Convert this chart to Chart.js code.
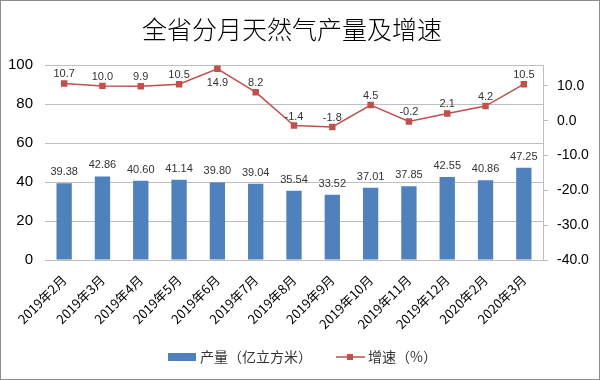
<!DOCTYPE html>
<html>
<head>
<meta charset="utf-8">
<script src="https://cdn.jsdelivr.net/npm/chart.js@4/dist/chart.umd.min.js"></script>
<style>
  html, body { margin: 0; padding: 0; background: #fff; }
  #wrap { position: relative; width: 598px; height: 378px; border: 1px solid #8c8c8c; }
</style>
</head>
<body>
<div id="wrap"><canvas id="chart" width="598" height="378"></canvas></div>
<script>
const months = ['2019年2月', '2019年3月', '2019年4月', '2019年5月', '2019年6月', '2019年7月', '2019年8月',
  '2019年9月', '2019年10月', '2019年11月', '2019年12月', '2020年2月', '2020年3月'];
const output = [39.38, 42.86, 40.60, 41.14, 39.80, 39.04, 35.54, 33.52, 37.01, 37.85, 42.55, 40.86, 47.25];
const growth = [10.7, 10.0, 9.9, 10.5, 14.9, 8.2, -1.4, -1.8, 4.5, -0.2, 2.1, 4.2, 10.5];
const rightTicks = [-40, -30, -20, -10, 0, 10];
const chartTitle = '全省分月天然气产量及增速';

const blue = '#4F81BD';
const red = '#C0504D';
const font = "'Liberation Sans', 'Noto Sans CJK SC', sans-serif";
const cjk = "'Noto Sans CJK SC', sans-serif";

// value labels over bars and points
const valueLabels = {
  id: 'valueLabels',
  afterDatasetsDraw(chart) {
    const ctx = chart.ctx;
    ctx.save();
    ctx.font = `11px ${font}`;
    ctx.fillStyle = '#333';
    ctx.textAlign = 'center';
    chart.data.datasets.forEach((ds, i) => {
      const meta = chart.getDatasetMeta(i);
      meta.data.forEach((el, j) => {
        const v = ds.data[j];
        const text = ds.type === 'bar' ? v.toFixed(2) : v.toFixed(1);
        let y = ds.type === 'bar' ? el.y - 8 : el.y - 6;
        if (ds.type === 'line' && j === 4) y = el.y + 17;
        ctx.fillText(text, el.x, y);
      });
    });
    ctx.restore();
  }
};

// title and legend, placed like the original
const decorations = {
  id: 'decorations',
  afterDraw(chart) {
    const ctx = chart.ctx;
    ctx.save();
    ctx.font = `300 25px ${cjk}`;
    ctx.fillStyle = '#000';
    ctx.textAlign = 'center';
    ctx.textBaseline = 'middle';
    ctx.fillText(chartTitle, 291, 28);

    const y = 356;
    ctx.textAlign = 'left';
    ctx.font = `14px ${cjk}`;
    ctx.fillStyle = blue;
    ctx.fillRect(167, y - 4, 28, 8);
    ctx.fillStyle = '#333';
    ctx.fillText(chart.data.datasets[1].label, 199, y);
    ctx.strokeStyle = red;
    ctx.lineWidth = 1.5;
    ctx.beginPath();
    ctx.moveTo(335, y);
    ctx.lineTo(364, y);
    ctx.stroke();
    ctx.fillStyle = red;
    ctx.fillRect(346, y - 3, 6, 6);
    ctx.fillStyle = '#333';
    ctx.fillText(chart.data.datasets[0].label, 367, y);
    ctx.restore();
  }
};

new Chart(document.getElementById('chart'), {
  data: {
    labels: months,
    datasets: [
      {
        type: 'line',
        label: '增速（%）',
        data: growth,
        yAxisID: 'y1',
        borderColor: red,
        backgroundColor: red,
        borderWidth: 1.5,
        pointStyle: 'rect',
        pointRadius: 3.5,
        pointBackgroundColor: red,
        pointBorderColor: red,
        tension: 0,
        order: 0
      },
      {
        type: 'bar',
        label: '产量（亿立方米）',
        data: output,
        yAxisID: 'y',
        backgroundColor: blue,
        borderWidth: 0,
        barPercentage: 0.4,
        categoryPercentage: 1.0,
        order: 1
      }
    ]
  },
  options: {
    responsive: false,
    animation: false,
    layout: { padding: { left: 0, right: 0, top: 64, bottom: 39 } },
    plugins: {
      title: { display: false },
      legend: { display: false },
      tooltip: { enabled: false }
    },
    scales: {
      x: {
        grid: { display: false },
        border: { color: '#bfbfbf' },
        afterFit(axis) { axis.height = 80; },
        ticks: {
          color: '#000',
          font: { family: cjk, size: 13 },
          maxRotation: 45,
          minRotation: 45,
          autoSkip: false,
          padding: 4
        }
      },
      y: {
        position: 'left',
        min: 0,
        max: 100,
        afterFit(axis) { axis.width = 44; },
        ticks: { stepSize: 20, color: '#000', font: { family: font, size: 15 }, padding: 12 },
        grid: { color: '#bfbfbf', drawTicks: false },
        border: { display: false }
      },
      y1: {
        position: 'right',
        min: -40,
        max: 16,
        afterFit(axis) { axis.width = 56; },
        afterBuildTicks(axis) {
          axis.ticks = rightTicks.map(v => ({ value: v }));
        },
        ticks: {
          color: '#000',
          font: { family: font, size: 14 },
          padding: 9,
          callback: v => Number(v).toFixed(1)
        },
        grid: { drawOnChartArea: false, color: '#bfbfbf', tickLength: 5 },
        border: { color: '#bfbfbf' }
      }
    }
  },
  plugins: [valueLabels, decorations]
});
</script>
</body>
</html>
